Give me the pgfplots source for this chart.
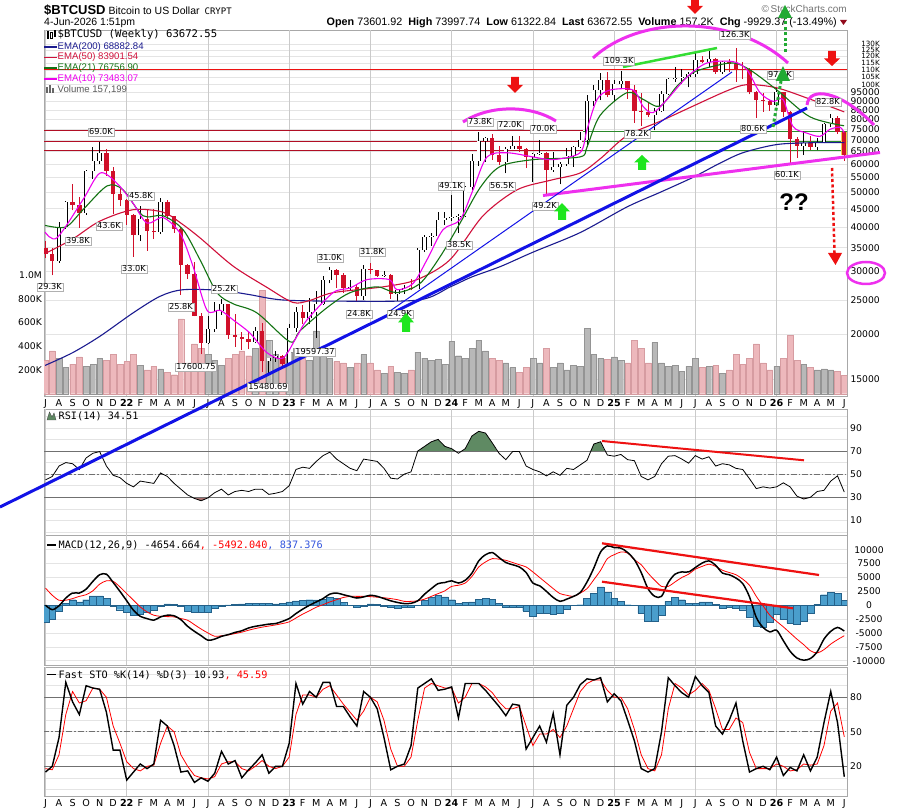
\documentclass[border=0pt]{standalone}
\usepackage{fontspec}
\setmainfont{Liberation Sans}
\newfontfamily\dv{DejaVu Sans}
\newfontfamily\dvm{DejaVu Sans Mono}
\usepackage{pgfplots}
\usepackage{pgfplotstable}
\pgfplotsset{compat=1.18}

\definecolor{gridc}{HTML}{E4E4E4}
\definecolor{gridv}{HTML}{CACACA}
\definecolor{frame}{HTML}{A8A8A8}
\definecolor{candred}{HTML}{D0102A}
\definecolor{ema200}{HTML}{1B1B8F}
\definecolor{ema50}{HTML}{D0103A}
\definecolor{ema21}{HTML}{137313}
\definecolor{ema10}{HTML}{EE00EE}
\definecolor{volup}{HTML}{B8B8B8}
\definecolor{volupd}{HTML}{949494}
\definecolor{voldn}{HTML}{EDB8BC}
\definecolor{voldnd}{HTML}{D69CA1}
\definecolor{annmag}{HTML}{EE30EE}
\definecolor{annblue}{HTML}{1212E6}
\definecolor{anngreen}{HTML}{33DD33}
\definecolor{annred}{HTML}{EE1111}
\definecolor{garr}{HTML}{1EE61E}
\definecolor{dgreen}{HTML}{22AA33}
\definecolor{rsigreen}{HTML}{5F8A63}
\definecolor{rsired}{HTML}{A87272}
\definecolor{histfill}{HTML}{4A9ECC}
\definecolor{histline}{HTML}{24618A}
\definecolor{refline}{HTML}{707070}
\definecolor{labgray}{HTML}{B0B0B0}
\definecolor{hlgreen}{HTML}{2A8A2A}
\definecolor{macdblue}{HTML}{3355DD}
\definecolor{lastc}{HTML}{F2D24A}

\pgfplotstableread{
x O H L C V dn rsi macd sig hist k d
-6.0 35.0 36.5 32.7 33.5 280 1 45 0.0 3.1 -3.1 15 18
-5.5 33.5 35.0 29.3 32.1 360 1 48 -0.8 1.8 -2.6 20 17
-5.0 32.1 41.2 31.8 39.9 300 0 57 -0.1 0.9 -1.0 45 30
-4.5 39.9 47.2 39.5 46.9 220 0 60 1.3 0.9 0.4 93 65
-4.0 46.9 52.9 44.5 46.1 250 1 59 2.2 1.2 1.0 76 85
-3.5 46.1 48.5 39.8 43.8 310 1 54 2.2 1.6 0.6 65 75
-3.0 43.8 57.8 43.3 57.4 230 0 64 2.9 1.9 1.0 90 77
-2.5 57.4 67.0 54.5 61.3 250 0 68 4.3 2.6 1.7 88 88
-2.0 61.3 69.0 60.0 64.4 300 0 69.5 5.5 3.8 1.7 87 87
-1.5 64.4 66.0 55.6 57.3 280 1 57 5.6 4.4 1.2 67 80
-1.0 57.3 59.0 43.6 49.4 330 1 49 4.1 4.3 -0.2 34 55
-0.5 49.4 51.0 45.7 47.6 250 1 47 2.5 3.3 -0.8 34 40
0.0 47.6 48.0 40.6 43.1 270 1 42 0.8 2.1 -1.3 8 24
0.5 43.1 43.5 33.0 37.9 330 1 39 -0.9 0.9 -1.8 15 18
1.0 37.9 45.8 36.5 42.2 240 0 44 -2.0 -0.3 -1.7 22 16
1.5 42.2 44.5 34.3 38.9 200 1 43 -2.4 -1.2 -1.2 18 20
2.0 38.9 45.0 37.0 38.8 230 1 42 -2.7 -1.8 -0.9 22 21
2.5 38.8 48.2 38.2 47.1 210 0 51 -2.1 -2.0 -0.1 60 40
3.0 47.1 47.5 42.0 42.8 180 1 48 -1.8 -2.05 0.25 55 55
3.5 42.8 43.0 38.5 39.6 160 1 42 -1.9 -2.1 0.2 38 50
4.0 39.6 40.0 25.8 31.3 630 1 37 -2.6 -2.4 -0.2 15 30
4.5 31.3 31.5 28.6 29.5 260 1 32 -3.8 -2.7 -1.1 16 20
5.0 29.5 32.0 22.5 22.5 420 1 29 -4.7 -3.5 -1.2 6 12
5.5 22.5 23.0 17.6 19.0 380 1 27 -5.5 -4.3 -1.2 10 10
6.0 19.0 22.5 18.8 20.8 330 0 29.5 -6.3 -5.0 -1.3 7 9
6.5 20.8 24.6 20.4 23.3 280 0 34 -6.1 -5.6 -0.5 14 11
7.0 23.3 25.2 22.7 24.3 240 0 37 -5.6 -5.5 -0.1 33 22
7.5 24.3 24.4 19.5 20.0 300 1 32 -5.3 -5.35 0.05 22 24
8.0 20.0 22.8 18.5 19.7 330 1 35 -4.9 -5.1 0.2 25 24
8.5 19.7 20.4 18.1 19.4 360 1 36 -4.6 -4.85 0.25 10 18
9.0 19.4 20.5 18.2 19.1 320 1 35 -4.1 -4.5 0.4 17 16
9.5 19.1 21.0 18.9 20.5 380 0 37 -3.8 -4.2 0.4 23 20
10.0 20.5 21.5 15.7 16.9 870 1 37 -3.6 -3.95 0.35 30 25
10.5 16.9 17.1 15.5 17.2 450 0 32.5 -3.4 -3.75 0.35 14 20
11.0 17.2 18.0 16.8 17.4 330 0 33.5 -3.3 -3.55 0.25 20 18
11.5 17.4 17.5 16.3 16.5 300 1 35 -2.9 -3.3 0.4 20 20
12.0 16.5 21.4 16.5 20.9 350 0 40 -2.4 -3.0 0.6 40 28
12.5 20.9 23.9 20.4 23.1 380 0 54 -1.5 -2.3 0.8 92 65
13.0 23.1 24.2 21.4 22.2 300 1 56 -0.7 -1.6 0.9 74 82
13.5 22.2 25.3 21.4 23.1 280 0 55 0.0 -1.0 1.0 85 82
14.0 23.1 26.5 19.6 24.4 530 0 61 0.6 -0.35 0.95 80 80
14.5 24.4 29.2 24.2 28.5 360 0 66 1.2 0.1 1.1 93 87
15.0 28.5 31.0 27.8 30.3 300 0 69 2.0 0.6 1.4 93 90
15.5 30.3 30.5 27.0 29.3 270 1 63 2.2 1.0 1.2 72 82
16.0 29.3 29.8 26.2 27.0 260 1 59 1.9 1.4 0.5 72 74
16.5 27.0 28.4 26.5 27.2 220 0 55 1.6 1.6 0.0 63 67
17.0 27.2 27.5 24.8 25.6 260 1 53 1.3 1.6 -0.3 55 60
17.5 25.6 31.4 25.0 30.5 330 0 63 1.5 1.6 -0.1 85 68
18.0 30.5 31.8 29.6 30.3 260 1 62 1.8 1.55 0.25 80 80
18.5 30.3 30.4 29.0 29.2 200 1 61 1.6 1.45 0.15 70 76
19.0 29.2 30.2 29.0 29.4 170 0 55 1.2 1.35 -0.15 45 60
19.5 29.4 29.5 25.2 25.9 230 1 46.5 0.8 1.2 -0.4 17 35
20.0 25.9 26.8 24.9 26.6 180 0 45.8 0.5 1.0 -0.5 20 20
20.5 26.6 27.5 26.0 27.0 170 0 50 0.3 0.7 -0.4 22 20
21.0 27.0 28.6 26.6 26.9 200 1 52 0.35 0.7 -0.35 38 28
21.5 26.9 35.0 26.8 34.5 350 0 70 0.8 0.8 0.0 88 60
22.0 34.5 38.0 34.0 37.5 300 0 74 2.0 1.1 0.9 92 88
22.5 37.5 38.5 35.5 37.7 280 0 78 3.0 1.6 1.4 96 92
23.0 37.7 44.0 37.6 41.9 290 0 80 3.9 2.1 1.8 86 90
23.5 41.9 44.0 40.5 42.3 250 0 74 4.1 2.6 1.5 87 88
24.0 42.3 49.1 41.5 42.7 440 0 72 4.4 3.4 1.0 89 88
24.5 42.7 43.5 38.5 43.0 320 0 68 4.0 3.6 0.4 62 75
25.0 43.0 52.0 42.6 51.9 300 0 72 4.5 4.0 0.5 92 80
25.5 51.9 64.0 50.6 61.2 380 0 83 5.8 5.2 0.6 92 92
26.0 61.2 73.8 59.3 69.5 450 0 87 8.0 6.9 1.1 92 92
26.5 69.5 71.5 60.8 71.0 360 0 85.5 9.1 7.8 1.3 86 89
27.0 71.0 72.7 61.5 63.5 300 1 77 9.5 8.4 1.1 79 84
27.5 63.5 67.2 59.5 60.6 280 1 68 8.6 8.3 0.3 72 76
28.0 60.6 66.9 56.5 66.2 260 0 62.5 7.7 8.1 -0.4 64 70
28.5 66.2 72.0 66.0 67.5 220 0 69.5 7.3 7.7 -0.4 74 70
29.0 67.5 71.9 65.0 66.0 180 1 69.5 6.9 7.3 -0.4 73 72
29.5 66.0 66.5 58.4 62.7 220 1 57 5.9 6.9 -1.0 35 55
30.0 62.7 64.5 53.5 64.0 300 0 54 4.0 6.0 -2.0 45 38
30.5 64.0 70.0 63.5 64.6 260 0 52 3.5 5.0 -1.5 55 48
31.0 64.6 65.0 49.2 57.6 380 1 48.5 2.5 4.0 -1.5 41 48
31.5 57.6 65.0 57.0 59.0 220 0 52 1.4 3.0 -1.6 66 52
32.0 59.0 60.6 52.6 60.0 260 0 49 0.7 2.1 -1.4 30 45
32.5 60.0 66.5 59.2 63.3 200 0 55 1.1 1.8 -0.7 73 55
33.0 63.3 67.5 58.9 67.0 240 0 54 1.6 1.6 0.0 80 70
33.5 67.0 73.5 66.5 70.2 230 0 58 2.3 2.2 0.1 91 85
34.0 70.2 93.4 66.8 90.0 550 0 62 4.2 3.0 1.2 96 92
34.5 90.0 99.8 87.0 96.4 330 0 76 6.7 4.6 2.1 95 95
35.0 96.4 108.0 90.5 103.0 300 0 78 9.6 6.3 3.3 97 95
35.5 103.0 108.2 92.2 93.4 290 1 66.5 10.7 8.4 2.3 76 86
36.0 93.4 102.8 89.3 100.5 310 0 65.5 10.4 9.1 1.3 83 80
36.5 100.5 109.3 97.8 102.4 280 0 67 10.3 9.6 0.7 77 80
37.0 102.4 102.5 91.2 96.5 260 1 62.5 9.5 9.4 0.1 60 70
37.5 96.5 99.5 78.2 84.4 450 1 61.6 8.2 8.2 0.0 42 52
38.0 84.4 95.0 76.6 83.9 380 1 48 5.9 7.3 -1.4 18 30
38.5 83.9 88.8 81.2 82.5 260 1 45 3.0 5.8 -2.8 15 18
39.0 82.5 86.0 74.5 84.5 430 0 48 1.6 4.5 -2.9 18 16
39.5 84.5 95.8 83.9 94.2 260 0 59 1.6 3.4 -1.8 50 30
40.0 94.2 104.5 93.4 103.5 230 0 65.5 4.1 3.4 0.7 97 70
40.5 103.5 112.0 102.0 104.6 240 0 66 5.6 4.2 1.4 90 92
41.0 104.6 110.5 100.4 105.0 190 0 63 6.0 5.0 1.0 84 88
41.5 105.0 108.8 98.2 107.1 230 0 59.5 6.0 5.6 0.4 80 82
42.0 107.1 123.2 105.0 117.5 300 0 66 6.8 6.5 0.3 98 86
42.5 117.5 120.2 114.7 115.8 220 1 63 7.6 7.0 0.6 90 92
43.0 115.8 124.3 112.0 118.0 230 0 65 8.0 7.4 0.6 84 86
43.5 118.0 118.5 107.3 108.3 240 1 57 7.2 7.0 0.2 55 70
44.0 108.3 116.8 107.3 115.5 170 0 59 5.8 6.3 -0.5 48 52
44.5 115.5 117.9 108.7 114.0 200 1 58 5.5 5.9 -0.4 60 52
45.0 114.0 126.3 102.0 110.8 330 1 55 4.9 5.5 -0.6 75 62
45.5 110.8 116.0 103.5 109.6 250 1 54 3.9 4.7 -0.8 42 58
46.0 109.6 111.0 94.0 95.5 300 1 46 1.5 3.6 -2.1 15 32
46.5 95.5 96.0 80.6 90.4 420 1 37.5 -2.2 1.6 -3.8 18 18
47.0 90.4 94.6 84.0 90.2 260 1 39 -4.0 -0.1 -3.9 20 18
47.5 90.2 90.5 84.5 87.6 200 1 38 -4.8 -1.8 -3.0 17 18
48.0 87.6 97.9 87.2 95.3 230 0 39 -4.5 -2.9 -1.6 28 22
48.5 95.3 95.5 81.0 84.0 300 1 42.5 -6.4 -3.9 -2.5 12 20
49.0 84.0 84.5 60.1 70.5 490 1 39 -8.3 -5.0 -3.3 19 16
49.5 70.5 71.5 62.5 67.5 280 1 31 -9.5 -6.1 -3.4 16 17
50.0 67.5 74.0 63.5 68.5 250 0 28.5 -9.9 -7.1 -2.8 30 22
50.5 68.5 72.0 65.5 67.0 220 1 30 -9.6 -8.2 -1.4 16 21
51.0 67.0 71.0 65.5 69.0 200 0 35 -8.4 -8.6 0.2 28 22
51.5 69.0 78.0 68.5 77.5 210 0 36 -6.1 -8.0 1.9 58 38
52.0 77.5 82.8 76.0 80.5 200 0 44 -4.7 -7.0 2.3 85 68
52.5 80.5 81.5 73.0 73.6 190 1 48.5 -4.0 -6.2 2.2 58 75
53.0 73.6 74.0 61.3 63.67 157 1 34.51 -4.655 -5.492 0.837 10.93 45.59
}\data

\pgfplotstableread{
x y
-6.03 16.4
-4.0 17.8
-1.97 19.8
0.47 23.0
2.47 25.6
4.16 26.7
6.9 26.6
9.0 25.9
11.5 25.0
16.0 24.8
21.6 25.0
23.9 27.2
25.5 29.0
27.6 31.0
30.0 34.0
33.5 38.6
36.95 45.5
39.4 50.0
41.8 55.0
43.7 60.0
45.5 64.5
48.0 68.0
50.5 68.8
53.0 68.88
}\emaA

\pgfplotstableread{
x y
-6.03 33.7
-4.0 37.0
-2.0 41.5
0.47 44.7
2.68 44.0
4.0 41.0
5.41 37.3
7.85 31.1
10.36 27.1
12.28 24.6
13.5 24.9
15.24 26.2
18.93 27.2
21.44 28.5
23.88 32.4
26.32 43.0
28.83 50.8
31.27 54.0
33.48 56.6
34.96 62.0
36.95 72.0
39.4 79.0
41.8 87.0
44.3 96.0
45.8 100.0
48.0 98.0
50.5 91.0
53.0 83.9
}\emaB

\pgfplotstableread{
x y
-6.03 40.4
-4.5 40.0
-3.23 44.7
-1.45 52.1
-0.27 50.8
1.2 43.0
2.68 43.0
4.16 39.3
5.41 32.4
6.67 26.2
7.85 24.4
9.62 23.0
12.06 19.1
12.8 20.5
14.8 23.8
16.5 26.2
18.49 27.2
19.96 26.2
21.66 27.8
23.14 33.0
24.62 41.0
26.1 51.5
27.57 59.0
30.0 61.7
33.48 62.8
34.0 67.0
34.96 82.0
36.95 95.0
38.13 91.0
39.39 87.0
40.64 99.0
41.82 108.0
43.08 112.0
44.78 115.0
46.03 110.0
48.03 96.6
50.46 81.3
52.98 76.76
}\emaC

\pgfplotstableread{
x y
-6.03 38.7
-5.15 37.3
-3.23 47.7
-1.97 56.6
-0.72 53.0
0.47 46.6
1.5 41.0
2.68 42.5
3.94 38.4
4.89 31.1
5.93 23.4
6.89 23.4
7.85 22.0
9.1 20.2
10.36 17.8
11.54 17.2
12.58 19.8
13.32 22.0
15.24 26.2
16.5 27.0
17.75 28.5
19.4 28.5
19.96 26.7
21.15 27.8
22.18 32.4
23.36 39.3
24.62 41.9
25.58 50.8
26.61 62.8
28.09 64.5
30.01 62.8
31.49 61.7
33.48 64.5
34.0 75.0
34.74 90.9
35.7 96.6
37.4 96.6
38.13 87.0
38.87 83.5
39.91 90.9
41.38 105.0
42.86 115.0
44.78 116.0
45.81 110.0
46.77 95.0
47.73 89.8
48.47 90.9
49.21 76.4
50.24 73.2
51.2 71.7
51.94 75.0
52.68 76.0
52.98 73.48
}\emaD

% build candle coordinate lists from the table
\def\wup{}\def\wdn{}\def\bup{}\def\bdn{}
\pgfplotsforeachungrouped \i in {0,...,118}{%
  \pgfplotstablegetelem{\i}{x}\of\data \let\qx\pgfplotsretval
  \pgfplotstablegetelem{\i}{O}\of\data \let\qo\pgfplotsretval
  \pgfplotstablegetelem{\i}{H}\of\data \let\qh\pgfplotsretval
  \pgfplotstablegetelem{\i}{L}\of\data \let\ql\pgfplotsretval
  \pgfplotstablegetelem{\i}{C}\of\data \let\qc\pgfplotsretval
  \pgfplotstablegetelem{\i}{dn}\of\data \let\qd\pgfplotsretval
  \ifnum\qd=1\relax
    \xdef\wdn{\wdn (\qx,\ql) (\qx,\qh) (\qx,nan)}%
    \xdef\bdn{\bdn (\qx,\qo) (\qx,\qc) (\qx,nan)}%
  \else
    \xdef\wup{\wup (\qx,\ql) (\qx,\qh) (\qx,nan)}%
    \xdef\bup{\bup (\qx,\qo) (\qx,\qc) (\qx,nan)}%
  \fi
}

\newcommand\kl[1]{{\fontsize{7.2}{7.5}\selectfont #1}}
\pgfplotsset{
  panel/.style={
    scale only axis, width=803pt, xmin=-6.11, xmax=53.2,
    axis line style={draw=frame, line width=0.8pt},
    tick style={draw=none},
    xtick=\empty,
    extra x ticks={-6,0,6,12,18,24,30,36,42,48},
    extra x tick labels={},
    extra x tick style={xmajorgrids=true, major grid style={draw=gridv, line width=0.7pt}},
    ymajorgrids, yminorgrids,
    major grid style={draw=gridc, line width=0.6pt},
    minor grid style={draw=gridc, line width=0.6pt},
    yticklabel style={font={\dv\fontsize{9.2}{10}\selectfont}},
  },
  monthlabels/.style={
    xtick={-6,...,53},
    xticklabels={J,A,S,O,N,D,\textbf{22},F,M,A,M,J,J,A,S,O,N,D,\textbf{23},F,M,A,M,J,J,A,S,O,N,D,\textbf{24},F,M,A,M,J,J,A,S,O,N,D,\textbf{25},F,M,A,M,J,J,A,S,O,N,D,\textbf{26},F,M,A,M,J},
    xticklabel style={font={\dv\fontsize{9.6}{10}\selectfont}, inner sep=0pt, yshift=-3pt, anchor=north},
  },
  overlay/.style={scale only axis, width=803pt, height=366pt, at={(44pt,415pt)}, xmin=-6.11, xmax=53.2},
}

\newcommand\plab[3]{\node[draw=labgray, fill=white, inner sep=1.1pt, line width=0.5pt, font={\dv\fontsize{8.2}{9}\selectfont}] at (#1,#2) {#3};}
\newcommand\rarrow[3]{\fill[annred] ({#1-3.8},#2) -- ({#1+3.8},#2) -- ({#1+3.8},{#2+0.5*(#3-#2)}) -- ({#1+8},{#2+0.5*(#3-#2)}) -- (#1,#3) -- ({#1-8},{#2+0.5*(#3-#2)}) -- ({#1-3.8},{#2+0.5*(#3-#2)}) -- cycle;}
\newcommand\garrow[3]{\fill[garr] ({#1-4},#3) -- ({#1+4},#3) -- ({#1+4},{#2+0.5*(#3-#2)}) -- ({#1+8},{#2+0.5*(#3-#2)}) -- (#1,#2) -- ({#1-8},{#2+0.5*(#3-#2)}) -- ({#1-4},{#2+0.5*(#3-#2)}) -- cycle;}

\begin{document}
\begin{tikzpicture}
\useasboundingbox (0pt,0pt) rectangle (900pt,811pt);

% ---------- main panel: grid and price ticks ----------
\begin{axis}[panel, monthlabels, at={(44pt,415pt)}, height=366pt,
  ymode=log, ymin=13.47, ymax=142.2, yminorgrids=false,
  ytick={15,20,25,30,35,40,45,50,55,60,65,70,75,80,85,90,95,100,105,110,115,120,125,130},
  yticklabels={15000,20000,25000,30000,35000,40000,45000,50000,55000,60000,65000,70000,75000,80000,85000,90000,95000,\kl{100K},\kl{105K},\kl{110K},\kl{115K},\kl{120K},\kl{125K},\kl{130K}},
  yticklabel pos=right,
  yticklabel style={anchor=east, inner sep=0pt, xshift=33pt},
]
\addplot[draw=none] coordinates {(0,20) (1,30)};
\end{axis}

% ---------- volume ----------
\begin{axis}[overlay, ymin=-19, ymax=3063, axis line style={draw=none}, tick style={draw=none},
  xtick=\empty, ytick={200,400,600,800,1000}, yticklabels={200K,400K,600K,800K,1.0M},
  yticklabel style={font={\dv\fontsize{9.2}{10}\selectfont}, anchor=east, inner sep=0pt, xshift=-2pt}]
\addplot[ybar, bar width=0.42, bar shift=0pt, fill=volup, draw=volupd, line width=0.4pt, restrict expr to domain={\thisrow{dn}}{-0.5:0.5}] table[x=x,y=V]{\data};
\addplot[ybar, bar width=0.42, bar shift=0pt, fill=voldn, draw=voldnd, line width=0.4pt, restrict expr to domain={\thisrow{dn}}{0.5:1.5}] table[x=x,y=V]{\data};
\end{axis}

% ---------- price plots ----------
\begin{axis}[overlay, ymode=log, ymin=13.47, ymax=142.2, hide axis]
\addplot[annred, line width=1.1pt] coordinates {(-7,110) (54,110)};
\addplot[candred!85!black, line width=1pt] coordinates {(-7,74.3) (33.7,74.3)};
\addplot[candred!85!black, line width=1pt] coordinates {(-7,69.4) (33.7,69.4)};
\addplot[candred!85!black, line width=1pt] coordinates {(-7,65.5) (33.7,65.5)};
\addplot[hlgreen, line width=1pt] coordinates {(33.7,74.0) (54,74.0)};
\addplot[hlgreen, line width=1pt] coordinates {(33.7,69.4) (54,69.4)};
\addplot[hlgreen, line width=1pt] coordinates {(33.7,65.5) (54,65.5)};
\edef\tmp{\noexpand\addplot[black, line width=0.8pt, unbounded coords=jump] coordinates {\wup};}\tmp
\edef\tmp{\noexpand\addplot[candred, line width=0.8pt, unbounded coords=jump] coordinates {\wdn};}\tmp
\edef\tmp{\noexpand\addplot[black, line width=4.4pt, unbounded coords=jump] coordinates {\bup};}\tmp
\edef\tmp{\noexpand\addplot[white, line width=2.8pt, unbounded coords=jump] coordinates {\bup};}\tmp
\addplot[lastc, line width=6pt] coordinates {(53.0,73.9) (53.0,63.4)};
\edef\tmp{\noexpand\addplot[candred, line width=4.4pt, unbounded coords=jump] coordinates {\bdn};}\tmp
\addplot[ema200, line width=1.1pt, smooth] table[x=x,y=y]{\emaA};
\addplot[ema50, line width=1.1pt, smooth] table[x=x,y=y]{\emaB};
\addplot[ema21, line width=1.1pt, smooth] table[x=x,y=y]{\emaC};
\addplot[ema10, line width=1.1pt, smooth] table[x=x,y=y]{\emaD};
\end{axis}

% ---------- RSI ----------
\begin{axis}[panel, at={(44pt,276pt)}, height=126pt, ymin=-2.6, ymax=106.3,
  ytick={10,30,50,70,90}, yticklabels={10,30,50,70,90}, minor ytick={0,20,40,60,80,100},
  yticklabel pos=right, yticklabel style={anchor=west, inner sep=0pt, xshift=3pt}]
\addplot[fill=rsigreen, draw=none] coordinates {(21.5,70) (22,74) (22.5,78) (23,80) (23.5,74) (24,72) (24.25,70)};
\addplot[fill=rsigreen, draw=none] coordinates {(24.8,70) (25,72) (25.5,83) (26,87) (26.5,85.5) (27,77) (27.35,70)};
\addplot[fill=rsigreen, draw=none] coordinates {(34.25,70) (34.5,76) (35,78) (35.3,70)};
\addplot[fill=rsired, draw=none] coordinates {(4.83,30) (5,29) (5.5,27) (6,29.5) (6.06,30)};
\addplot[fill=rsired, draw=none] coordinates {(49.7,30) (50,28.5) (50.5,30)};
\addplot[refline, line width=0.9pt] coordinates {(-7,70) (54,70)};
\addplot[refline, line width=0.9pt] coordinates {(-7,30) (54,30)};
\addplot[refline, line width=0.8pt, dash pattern=on 6pt off 2pt on 1.5pt off 2pt] coordinates {(-7,50) (54,50)};
\addplot[black, line width=0.8pt] table[x=x,y=rsi]{\data};
\end{axis}

% ---------- MACD ----------
\begin{axis}[panel, at={(44pt,146pt)}, height=129.5pt, ymin=-10.77, ymax=12.57,
  ytick={-10,-7.5,-5,-2.5,0,2.5,5,7.5,10},
  yticklabels={-10000,-7500,-5000,-2500,0,2500,5000,7500,10000},
  yticklabel pos=right, yticklabel style={anchor=center, inner sep=0pt, xshift=22pt}]
\addplot[ybar, bar width=0.5, bar shift=0pt, fill=histfill, draw=histline, line width=0.35pt] table[x=x,y=hist]{\data};
\addplot[red, line width=0.8pt, smooth] table[x=x,y=sig]{\data};
\addplot[black, line width=1.5pt, smooth] table[x=x,y=macd]{\data};
\end{axis}

% ---------- Fast STO ----------
\begin{axis}[panel, monthlabels, at={(44pt,15pt)}, height=129pt, ymin=-5.8, ymax=106.3,
  ytick={20,50,80}, yticklabels={20,50,80}, minor ytick={0,10,30,40,60,70,90,100},
  yticklabel pos=right, yticklabel style={anchor=west, inner sep=0pt, xshift=3pt}]
\addplot[refline, line width=0.9pt] coordinates {(-7,80) (54,80)};
\addplot[refline, line width=0.9pt] coordinates {(-7,20) (54,20)};
\addplot[refline, line width=0.8pt, dash pattern=on 6pt off 2pt on 1.5pt off 2pt] coordinates {(-7,50) (54,50)};
\addplot[red, line width=0.8pt] table[x=x,y=d]{\data};
\addplot[black, line width=1.4pt] table[x=x,y=k]{\data};
\end{axis}

% ---------- texts and annotations (image pixel coordinates) ----------
\begin{scope}[x=1pt, y=1pt, shift={(0pt,811pt)}, yscale=-1]
% header
\node[anchor=west, inner sep=0pt] at (44,10) {{\fontsize{13}{14}\selectfont\bfseries \$BTCUSD}\hspace{3pt}{\fontsize{10.5}{12}\selectfont Bitcoin to US Dollar}\hspace{5pt}{\dvm\fontsize{9}{12}\selectfont CRYPT}};
\node[anchor=west, inner sep=0pt] at (44,23) {\fontsize{10.5}{12}\selectfont 4-Jun-2026 1:51pm};
\node[anchor=east, inner sep=0pt] at (837,23) {\fontsize{10.8}{12}\selectfont \textbf{Open} 73601.92\hspace{6pt}\textbf{High} 73997.74\hspace{6pt}\textbf{Low} 61322.84\hspace{6pt}\textbf{Last} 63672.55\hspace{6pt}\textbf{Volume} 157.2K\hspace{6pt}\textbf{Chg} -9929.37 (-13.49\%)};
\fill[candred!70!black] (840,20) -- (847,20) -- (843.5,25) -- cycle;
\node[anchor=east, inner sep=0pt, text=black!55] at (847,9) {\fontsize{10}{12}\selectfont \textcopyright\,StockCharts.com};

% main legend
\fill[black] (47,31) rectangle (48.5,39); \draw[black, line width=0.6pt] (50.5,32.5) rectangle (52.5,38); \fill[black] (54,30) rectangle (55.5,37);
\node[anchor=west, inner sep=0pt, font={\dvm\fontsize{10.6}{12}\selectfont}] at (57.5,35) {\$BTCUSD (Weekly) 63672.55};
\draw[ema200, line width=1.8pt] (44,46.7) -- (56.5,46.7);
\node[anchor=west, inner sep=0pt, text=ema200, font={\fontsize{9.6}{11}\selectfont}] at (57.5,46.7) {EMA(200) 68882.84};
\draw[ema50, line width=1.8pt] (44,57.5) -- (56.5,57.5);
\node[anchor=west, inner sep=0pt, text=ema50, font={\fontsize{9.6}{11}\selectfont}] at (57.5,57.5) {EMA(50) 83901.54};
\draw[ema21, line width=1.8pt] (44,68.3) -- (56.5,68.3);
\node[anchor=west, inner sep=0pt, text=ema21, font={\fontsize{9.6}{11}\selectfont}] at (57.5,68.3) {EMA(21) 76756.90};
\draw[ema10, line width=1.8pt] (44,79.3) -- (56.5,79.3);
\node[anchor=west, inner sep=0pt, text=ema10, font={\fontsize{9.6}{11}\selectfont}] at (57.5,79.3) {EMA(10) 73483.07};
\fill[black!60] (46,87) rectangle (48,93); \fill[black!60] (49,85) rectangle (51,93); \fill[black!60] (52,88) rectangle (54,93);
\node[anchor=west, inner sep=0pt, text=black!65, font={\fontsize{9.6}{11}\selectfont}] at (57.5,89.5) {Volume 157,199};

% indicator legends
\filldraw[fill=rsigreen, draw=black!70, line width=0.4pt] (47,420) -- (49.5,412) -- (52,417) -- (54,413) -- (56,420) -- cycle;
\node[anchor=west, inner sep=0pt, font={\dvm\fontsize{10.2}{12}\selectfont}] at (58.5,416) {RSI(14) 34.51};
\draw[black, line width=1.8pt] (47,545) -- (56,545);
\node[anchor=west, inner sep=0pt, font={\dvm\fontsize{10.2}{12}\selectfont}] at (58.5,545.5) {MACD(12,26,9) -4654.664\textcolor{red}{, -5492.040}\textcolor{macdblue}{, 837.376}};
\draw[black, line width=1.8pt] (47,674.5) -- (56,674.5);
\node[anchor=west, inner sep=0pt, font={\dvm\fontsize{10.2}{12}\selectfont}] at (58.5,675) {Fast STO \%K(14) \%D(3) 10.93\textcolor{red}{, 45.59}};

% line annotations
\draw[annmag, line width=3pt] (543,195.5) -- (880,152.5);
\draw[annmag, line width=3pt] (463,122) .. controls (490,104.7) and (530,104.7) .. (556,121);
\draw[annmag, line width=3pt] (593,58) .. controls (640,14.5) and (735,14.5) .. (788,63);
\draw[annmag, line width=3pt] (807,105) .. controls (809,86) and (840,90) .. (874,125);
\draw[annmag, line width=2.5pt] (866,273) ellipse [x radius=19, y radius=11];
\draw[anngreen, line width=2.5pt] (623,67) -- (717,48);
\draw[annblue, line width=1pt] (390,311) -- (732,72);
\draw[annblue, line width=3pt] (0,507) -- (807,108);
\draw[annred, line width=2pt] (602,441) -- (804,460.3);
\draw[annred, line width=2.2pt] (602,543.3) -- (819,575);
\draw[annred, line width=2.2pt] (602,581.7) -- (793,608.3);

% price labels
\plab{101}{132}{69.0K}
\plab{141}{196}{45.8K}
\plab{109}{226}{43.6K}
\plab{78}{241}{39.8K}
\plab{134}{269}{33.0K}
\plab{50}{287}{29.3K}
\plab{181}{307}{25.8K}
\plab{224}{289}{25.2K}
\plab{196}{367}{17600.75}
\plab{268}{387}{15480.69}
\plab{330}{258}{31.0K}
\plab{372}{252}{31.8K}
\plab{359}{314}{24.8K}
\plab{400}{314}{24.9K}
\plab{315}{352}{19597.37}
\plab{451}{186}{49.1K}
\plab{459}{245}{38.5K}
\plab{480}{122}{73.8K}
\plab{510}{125}{72.0K}
\plab{543}{129}{70.0K}
\plab{502}{186}{56.5K}
\plab{545}{206}{49.2K}
\plab{619}{61}{109.3K}
\plab{735}{35}{126.3K}
\plab{637}{134}{78.2K}
\plab{753}{129}{80.6K}
\plab{828}{102}{82.8K}
\plab{787}{175}{60.1K}
\plab{780}{75}{97.9K}

% arrows
\rarrow{515}{77}{93}
\rarrow{695}{-2}{14}
\rarrow{832}{51}{66}
\garrow{406}{313}{332}
\garrow{562}{203}{220}
\garrow{642}{155}{170}
\draw[dgreen, line width=3pt, dash pattern=on 3pt off 2.5pt] (773,127) -- (781,81);
\fill[dgreen] (775.5,81) -- (790,81) -- (783,66) -- cycle;
\draw[dgreen, line width=3pt, dash pattern=on 3pt off 2.5pt] (785,52) -- (785,17);
\fill[dgreen] (778,18) -- (792,18) -- (785,5) -- cycle;
\draw[annred, line width=2.5pt, dash pattern=on 3pt off 2.5pt] (832,168) -- (834.5,253);
\fill[annred] (828,253) -- (842,253) -- (835.5,265) -- cycle;
\node[font={\bfseries\fontsize{24}{26}\selectfont}] at (794,202) {??};
\end{scope}
\end{tikzpicture}
\end{document}
